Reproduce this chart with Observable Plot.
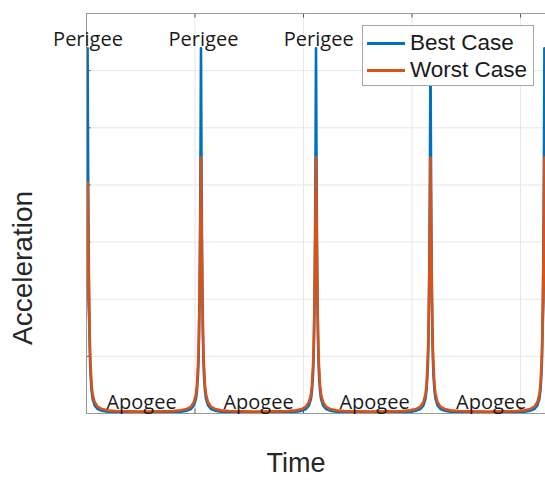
<!DOCTYPE html>
<html>
<head>
<meta charset="utf-8">
<script src="https://cdn.jsdelivr.net/npm/d3@7"></script>
<script src="https://cdn.jsdelivr.net/npm/@observablehq/plot@0.6"></script>
<style>
  html, body { margin: 0; padding: 0; background: #fff; }
  #wrap { position: relative; width: 545px; height: 480px; overflow: hidden; }
  .axlabel { position: absolute; font-family: "Liberation Sans", Arial, sans-serif; font-size: 28px; color: #262626; white-space: nowrap; line-height: 1; }
  #legend { position: absolute; left: 362px; top: 25px; width: 170px; height: 59px; background: #fff; border: 1px solid #a6a6a6; font-family: "Liberation Sans", Arial, sans-serif; font-size: 22.5px; color: #1a1a1a; }
  .lrow { position: absolute; left: 4px; height: 26px; display: flex; align-items: center; }
  .lrow span.sw { display: inline-block; width: 38px; height: 3px; margin-right: 5px; }
</style>
</head>
<body>
<div id="wrap"></div>
<script>
// ---- data ----
const xTicks = [0, 100, 200, 300, 400];
const yTicks = [1, 2, 3, 4, 5, 6];
const perigeeTimes = [1, 105.5, 211.5, 317, 422];
const bestPeak = [6.39, 6.39, 6.39, 6.39, 6.39];
const worstPeak = [4.04, 4.48, 4.48, 4.48, 4.48];
// half-profile around each perigee (offset in time units, value in acceleration units)
const profileOffset = [0.46, 0.92, 1.4, 1.85, 2.3, 2.8, 3.7, 4.6, 6.5, 9.2, 13, 18.5, 26, 37, 52.75];
const bestProfile  = [4.4, 2.9, 1.9, 1.3, 0.92, 0.66, 0.4, 0.26, 0.14, 0.08, 0.05, 0.033, 0.024, 0.019, 0.016];
const worstProfile = [3.6, 2.7, 2.0, 1.45, 1.08, 0.82, 0.5, 0.34, 0.2, 0.12, 0.08, 0.055, 0.043, 0.037, 0.033];
const perigeeLabelTimes = [1.4, 107.8, 214];
const apogeeLabelTimes = [50.7, 158.5, 265.4, 372.9];
const seriesNames = ["Best Case", "Worst Case"];
const seriesColors = ["#0072BD", "#D95319"];

function buildRows(peaks, profile) {
  const rows = [];
  perigeeTimes.forEach((p, i) => {
    for (let k = profile.length - 1; k >= 0; k--) rows.push({t: p - profileOffset[k], v: profile[k]});
    rows.push({t: p, v: peaks[i]});
    for (let k = 0; k < profile.length; k++) rows.push({t: p + profileOffset[k], v: profile[k]});
  });
  return rows.sort((a, b) => a.t - b.t);
}
const bestRows = buildRows(bestPeak, bestProfile);
const worstRows = buildRows(worstPeak, worstProfile);

const txtFont = {fontFamily: "'Open Sans', sans-serif", fontSize: 20, fill: "#1a1a1a"};

const chart = Plot.plot({
  width: 545,
  height: 480,
  marginLeft: 86,
  marginRight: 0,
  marginTop: 13,
  marginBottom: 67,
  x: {domain: [0, 423], axis: null},
  y: {domain: [0, 7], axis: null},
  marks: [
    Plot.ruleX(xTicks.slice(1), {stroke: "#e6e6e6", strokeWidth: 1}),
    Plot.ruleY(yTicks, {stroke: "#e6e6e6", strokeWidth: 1}),
    Plot.ruleX(xTicks.slice(1), {y1: 0, y2: 0.08, stroke: "#555"}),
    Plot.ruleX(xTicks.slice(1), {y1: 7, y2: 6.92, stroke: "#555"}),
    Plot.ruleY(yTicks, {x1: 0, x2: 4.2, stroke: "#555"}),
    Plot.line(bestRows, {x: "t", y: "v", stroke: seriesColors[0], strokeWidth: 2.6, clip: true}),
    Plot.line(worstRows, {x: "t", y: "v", stroke: seriesColors[1], strokeWidth: 2.6, clip: true}),
    Plot.ruleY([0], {stroke: "#999"}),
    Plot.ruleY([7], {stroke: "#999"}),
    Plot.ruleX([0], {stroke: "#999"}),
    Plot.text(perigeeLabelTimes, {x: d => d, y: 7, text: () => "Perigee", lineAnchor: "bottom", dy: 32, textAnchor: "middle", ...txtFont}),
    Plot.text(apogeeLabelTimes, {x: d => d, y: 0, text: () => "Apogee", lineAnchor: "bottom", dy: -5, textAnchor: "middle", ...txtFont})
  ]
});
chart.style.fontFamily = "'Open Sans', sans-serif";
const wrap = document.getElementById("wrap");
wrap.appendChild(chart);

const tl = document.createElement("div");
tl.className = "axlabel";
tl.textContent = "Time";
tl.style.fontSize = "27px";
tl.style.left = "296px"; tl.style.top = "450px";
tl.style.transform = "translateX(-50%)";
wrap.appendChild(tl);

const yl = document.createElement("div");
yl.className = "axlabel";
yl.textContent = "Acceleration";
yl.style.left = "23px"; yl.style.top = "268px";
yl.style.transform = "translate(-50%, -50%) rotate(-90deg)";
wrap.appendChild(yl);

const lg = document.createElement("div");
lg.id = "legend";
seriesNames.forEach((n, i) => {
  const r = document.createElement("div");
  r.className = "lrow";
  r.style.top = (4 + i * 27) + "px";
  const sw = document.createElement("span");
  sw.className = "sw";
  sw.style.background = seriesColors[i];
  r.appendChild(sw);
  const t = document.createElement("span");
  t.textContent = n;
  r.appendChild(t);
  lg.appendChild(r);
});
wrap.appendChild(lg);
</script>
</body>
</html>
